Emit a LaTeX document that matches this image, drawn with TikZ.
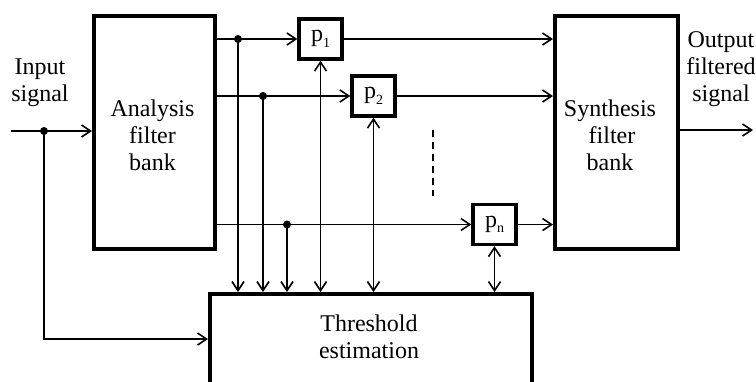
\documentclass[tikz,border=0pt]{standalone}
\usepackage{fontspec}
\setmainfont{Liberation Serif}
\usetikzlibrary{arrows.meta}
\newcommand{\psub}[1]{p\raisebox{-0.5ex}{\fontsize{14}{14}\selectfont #1}}
\begin{document}
\begin{tikzpicture}[x=1pt,y=-1pt,
  thin/.style={line width=1.6pt},
  >={Straight Barb[length=9pt,width=12pt]},
  bigbox/.style={draw,line width=3.6pt,inner sep=0pt,anchor=north west},
  pbox/.style={draw,line width=3.4pt,inner sep=0pt,minimum width=43pt,minimum height=40pt},
  lbl/.style={align=center,font=\fontsize{24}{27}\selectfont,inner sep=0pt},
  dot/.style={circle,fill,inner sep=0pt,minimum size=8pt}]
\useasboundingbox (0,0) rectangle (756,381);
% boxes
\node[bigbox,minimum width=121pt,minimum height=233pt] (ana) at (92,14) {};
\node[bigbox,minimum width=123pt,minimum height=233pt] (syn) at (553,14) {};
\node[bigbox,minimum width=322pt,minimum height=120pt] (thr) at (208,292) {};
\node[lbl] (anat) at (152.5,135) {Analysis\\filter\\bank};
\node[lbl] (synt) at (610,135) {Synthesis\\\,filter\\bank};
\node[lbl] (thrt) at (369,337) {Threshold\\estimation};
\node[lbl] (intxt) at (40,83) {Input\\signal};
\node[lbl] (outtxt) at (721,69) {Output\\filtered\\signal};
% p boxes
\node[pbox] (p1) at (320.5,39) {\fontsize{24}{27}\selectfont\psub{1}};
\node[pbox] (p2) at (373.5,96) {\fontsize{24}{27}\selectfont\psub{2}};
\node[pbox] (pn) at (494.5,224.5) {\fontsize{24}{27}\selectfont\psub{n}};
% coordinates
\coordinate (in) at (11,131);
\coordinate (din) at (44,131);
\coordinate (bend) at (44,339);
\coordinate (d1) at (238,39);
\coordinate (d2) at (263,96);
\coordinate (d3) at (287,224.5);
\coordinate (out) at (753,130);
\coordinate (dsa) at (433,130);
\coordinate (dsb) at (433,196);
% input
\draw[thin,->] (in) -- (ana.west |- in);
\draw[thin,->] (din) -- (bend) -- (thr.west |- bend);
\node[dot] (ndin) at (din) {};
% channel lines
\draw[thin,->] (ana.east |- p1) -- (p1);
\draw[thin,->] (p1) -- (syn.west |- p1);
\draw[thin,->] (ana.east |- p2) -- (p2);
\draw[thin,->] (p2) -- (syn.west |- p2);
\draw[thin,->] (ana.east |- pn) -- (pn);
\draw[thin,->] (pn) -- (syn.west |- pn);
% taps
\draw[thin,->] (d1) -- (d1 |- thr.north);
\draw[thin,->] (d2) -- (d2 |- thr.north);
\draw[thin,->] (d3) -- (d3 |- thr.north);
\node[dot] (nd1) at (d1) {};
\node[dot] (nd2) at (d2) {};
\node[dot] (nd3) at (d3) {};
% threshold feedback
\draw[thin,<->] (p1.south) -- (p1.south |- thr.north);
\draw[thin,<->] (p2.south) -- (p2.south |- thr.north);
\draw[thin,<->] (pn.south) -- (pn.south |- thr.north);
% dashed
\draw[thin,dash pattern=on 7pt off 5pt] (dsa) -- (dsb);
% output
\draw[thin,->] (syn.east |- out) -- (out);
\end{tikzpicture}
\end{document}
